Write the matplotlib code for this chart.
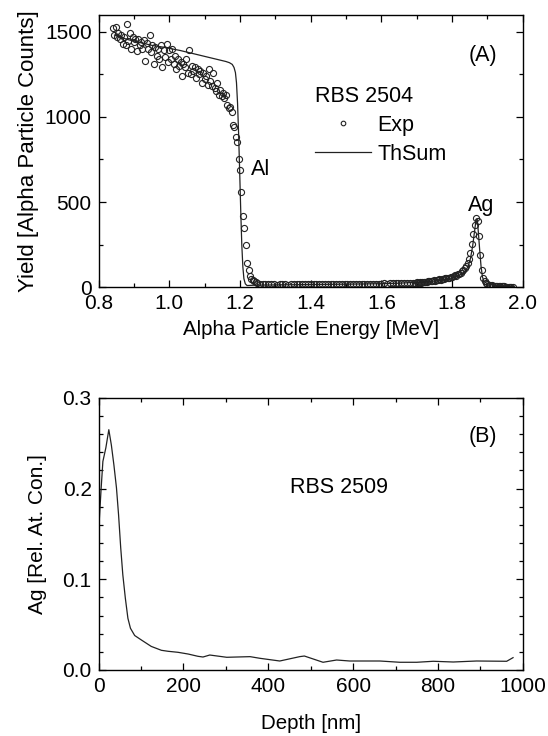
"""RBS spectrum (A) and Ag depth profile (B), two stacked panels."""

import matplotlib
import numpy as np

matplotlib.use("Agg")
import matplotlib.pyplot as plt  # noqa: E402
from matplotlib.ticker import MultipleLocator  # noqa: E402

plt.rcParams["font.family"] = ["Liberation Sans", "DejaVu Sans"]
plt.rcParams["font.size"] = 15.5

# (A) experimental RBS spectrum, energies in keV
exp_energy_kev = [
    840, 844, 848, 852, 856, 860, 864, 868, 872, 876, 880, 884, 888, 892,
    896, 900, 904, 908, 912, 916, 920, 924, 928, 932, 936, 940, 944, 948,
    952, 956, 960, 964, 968, 972, 976, 980, 984, 988, 992, 996, 1000,
    1004, 1008, 1012, 1016, 1020, 1024, 1028, 1032, 1036, 1040, 1044, 1048,
    1052, 1056, 1060, 1064, 1068, 1072, 1076, 1080, 1084, 1088, 1092, 1096,
    1100, 1104, 1108, 1112, 1116, 1120, 1124, 1128, 1132, 1136, 1140, 1144,
    1148, 1152, 1156, 1160, 1164, 1168, 1172, 1176, 1180, 1184, 1188, 1192,
    1196, 1200, 1204, 1208, 1212, 1216, 1220, 1224, 1228, 1232, 1236, 1240,
    1244, 1248,
    1256, 1264, 1272, 1280, 1288, 1296, 1304, 1312, 1320, 1328, 1336, 1344,
    1352, 1360, 1368, 1376, 1384, 1392, 1400, 1408, 1416, 1424, 1432, 1440,
    1448, 1456, 1464, 1472, 1480, 1488, 1496, 1504, 1512, 1520, 1528, 1536,
    1544, 1552, 1560, 1568, 1576, 1584, 1592, 1600, 1608, 1616, 1624, 1632,
    1640, 1648, 1656, 1664, 1672, 1680, 1688, 1696,
    1700, 1704, 1708, 1712, 1716, 1720, 1724, 1728, 1732, 1736, 1740, 1744,
    1748, 1752, 1756, 1760, 1764, 1768, 1772, 1776, 1780, 1784, 1788, 1792,
    1796, 1800, 1804, 1808, 1812, 1816, 1820, 1824, 1828, 1832, 1836, 1840,
    1844, 1848, 1852, 1856, 1860, 1864, 1868, 1872, 1876, 1880, 1884, 1888,
    1892, 1896, 1900, 1904, 1908, 1912, 1916, 1920, 1924, 1928, 1932, 1936,
    1940, 1944, 1948, 1952, 1956, 1960, 1964, 1968, 1972,
]
exp_yield = [
    1520, 1480, 1525, 1470, 1490, 1455, 1480, 1430, 1470, 1420, 1545, 1445,
    1490, 1400, 1470, 1440, 1460, 1385, 1455, 1420, 1440, 1400, 1450, 1330,
    1435, 1400, 1480, 1380, 1420, 1310, 1410, 1360, 1400, 1340, 1420, 1290,
    1395, 1350, 1430, 1320, 1390,
    1340, 1400, 1310, 1360, 1280, 1340, 1300, 1320, 1240, 1310, 1290, 1340,
    1260, 1395, 1250, 1300, 1270, 1290, 1230, 1280, 1250, 1270, 1200, 1260,
    1220, 1240, 1190, 1280, 1210, 1180, 1260, 1170, 1150, 1200, 1130, 1160,
    1120, 1140, 1110, 1130, 1070, 1050, 1060, 1030, 950, 940, 880, 850,
    750, 690, 560, 420, 350, 250, 140, 100, 65, 50, 40, 35,
    30, 25,
    22, 20, 18, 19, 17, 18, 16, 18, 17, 19, 16, 18,
    17, 19, 18, 17, 19, 18, 17, 19, 18, 20, 18, 19,
    17, 20, 19, 18, 20, 19, 21, 19, 20, 18, 21, 20,
    19, 21, 20, 22, 21, 20, 22, 21, 23, 22, 24, 23,
    25, 24, 23, 25, 26, 25, 27, 26,
    28, 26, 30, 27, 32, 29, 33, 31, 36, 34, 38, 36,
    41, 39, 44, 42, 47, 45, 50, 48, 53, 52, 57, 55,
    62, 60, 66, 70, 68, 76, 80, 86, 95, 100, 112, 125,
    140, 165, 200, 255, 310, 365, 405, 390, 300, 190, 100, 55,
    35, 25, 20, 16, 14, 12, 10, 9, 8, 8, 7, 6,
    6, 5, 5, 4, 4, 4, 3, 3, 3,
]

# (A) simulated sum spectrum
sim_energy_mev = [
    0.845, 0.86, 0.88, 0.90, 0.92, 0.95, 0.98, 1.00, 1.03, 1.06, 1.09, 1.12,
    1.14, 1.16, 1.17, 1.178, 1.183, 1.187, 1.190, 1.193, 1.196, 1.199,
    1.202, 1.205, 1.208, 1.211, 1.215, 1.22, 1.24, 1.30, 1.40, 1.50, 1.60,
    1.65, 1.70, 1.75, 1.78, 1.80, 1.82, 1.835, 1.845, 1.852, 1.858, 1.863,
    1.868, 1.871, 1.874, 1.878, 1.882, 1.886, 1.89, 1.90, 1.92, 1.95, 1.972,
]
sim_yield = [
    1480, 1470, 1455, 1445, 1435, 1420, 1410, 1402, 1390, 1375, 1360, 1345,
    1335, 1325, 1318, 1308, 1290, 1260, 1200, 1080, 900, 680,
    450, 250, 120, 50, 20, 10, 12, 14, 16, 18, 21,
    24, 29, 36, 45, 55, 70, 90, 120, 170, 240, 320,
    400, 400, 330, 220, 120, 60, 35, 20, 10, 6, 4,
]

# (B) Ag depth profile
depth_nm = [
    0, 6, 10, 17, 24, 30, 36, 42, 47, 52, 57, 63, 69, 75, 85, 101, 124,
    148, 164, 187, 211, 234, 246, 262, 302, 357, 380, 427, 474, 485, 529,
    561, 592, 663, 710, 750, 789, 836, 891, 962, 977,
]
ag_conc = [
    0.153, 0.201, 0.230, 0.245, 0.265, 0.248, 0.226, 0.201, 0.171, 0.135,
    0.105, 0.079, 0.057, 0.046, 0.038, 0.033, 0.026, 0.0217, 0.0206, 0.0195,
    0.0176, 0.0151, 0.0143, 0.0165, 0.0140, 0.0147, 0.0129, 0.0099, 0.0147,
    0.0154, 0.0085, 0.0110, 0.0099, 0.0099, 0.0085, 0.0085, 0.0096, 0.0088,
    0.0099, 0.0096, 0.0136,
]


def style_axes(ax):
    ax.tick_params(which="both", direction="in", top=True, right=True,
                   width=0.9, labelsize=15, pad=5)
    ax.tick_params(which="major", length=5)
    ax.tick_params(which="minor", length=3)
    for sp in ax.spines.values():
        sp.set_linewidth(1.0)


fig = plt.figure(figsize=(5.48, 7.36), dpi=100)
ax1 = fig.add_axes([0.180, 0.6097, 0.774, 0.3704])
ax2 = fig.add_axes([0.180, 0.0897, 0.774, 0.3696])

energy_mev = np.asarray(exp_energy_kev) / 1000.0
ax1.plot(energy_mev, exp_yield, "o", mfc="none", mec="#222222", ms=4.4,
         mew=0.8, label="Exp")
ax1.plot(sim_energy_mev, sim_yield, "-", color="#222222", lw=0.9,
         label="ThSum")
ax1.set_xlim(0.8, 2.0)
ax1.set_ylim(0, 1600)
ax1.xaxis.set_major_locator(MultipleLocator(0.2))
ax1.xaxis.set_minor_locator(MultipleLocator(0.1))
ax1.yaxis.set_major_locator(MultipleLocator(500))
ax1.yaxis.set_minor_locator(MultipleLocator(250))
ax1.xaxis.set_major_formatter(lambda v, p: f"{v:.1f}")
ax1.set_xlabel("Alpha Particle Energy [MeV]", labelpad=5, fontsize=14.8)
ax1.set_ylabel("Yield [Alpha Particle Counts]", labelpad=4, fontsize=16)
style_axes(ax1)
leg = ax1.legend(title="RBS 2504", loc="upper left",
                 bbox_to_anchor=(0.51, 0.74), frameon=False,
                 handlelength=2.6, handletextpad=0.3, labelspacing=0.38,
                 borderpad=0, borderaxespad=0, alignment="left",
                 markerscale=0.75, fontsize=15.5, title_fontsize=15.5)
ax1.text(0.872, 0.85, "(A)", transform=ax1.transAxes, ha="left",
         va="center")
ax1.text(1.23, 690, "Al", ha="left", va="center")
ax1.text(1.882, 480, "Ag", ha="center", va="center")

ax2.plot(depth_nm, ag_conc, "-", color="#222222", lw=0.9)
ax2.set_xlim(0, 1000)
ax2.set_ylim(0, 0.3)
ax2.xaxis.set_major_locator(MultipleLocator(200))
ax2.xaxis.set_minor_locator(MultipleLocator(100))
ax2.yaxis.set_major_locator(MultipleLocator(0.1))
ax2.yaxis.set_minor_locator(MultipleLocator(0.02))
ax2.yaxis.set_major_formatter(lambda v, p: f"{v:.1f}")
ax2.set_xlabel("Depth [nm]", labelpad=13, fontsize=14.8)
ax2.set_ylabel("Ag [Rel. At. Con.]", labelpad=11, fontsize=15)
style_axes(ax2)
ax2.text(0.872, 0.86, "(B)", transform=ax2.transAxes, ha="left",
         va="center")
ax2.text(0.45, 0.67, "RBS 2509", transform=ax2.transAxes, ha="left",
         va="center")

fig.savefig("out.png", dpi=100, facecolor="white")
